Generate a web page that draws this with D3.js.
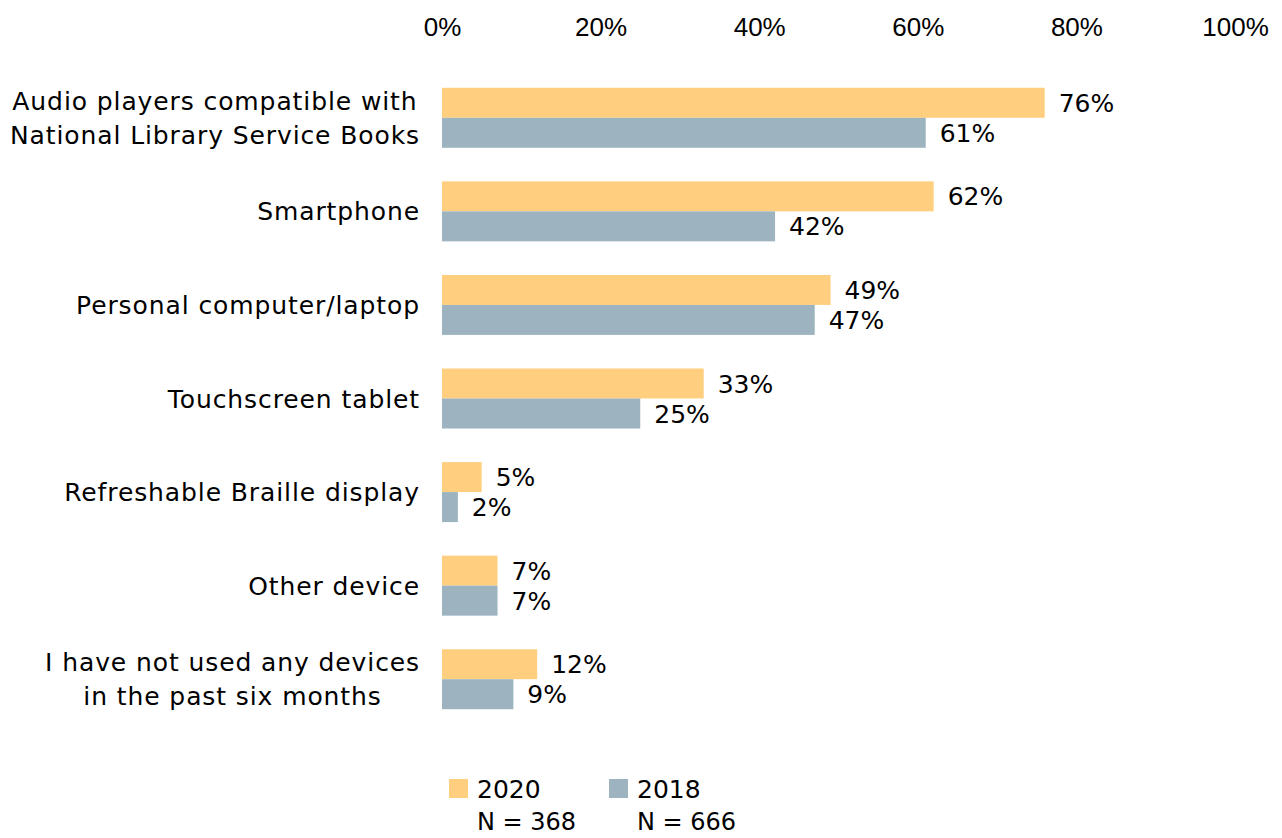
<!DOCTYPE html>
<html>
<head>
<meta charset="utf-8">
<script src="https://cdn.jsdelivr.net/npm/d3@7"></script>
<style>
  html, body { margin: 0; padding: 0; background: #fff; }
  svg text { fill: #000; }
</style>
</head>
<body>
<svg id="chart" width="1282" height="838"></svg>
<script>
// Devices used in the past six months, share of respondents
const categories = [
  ["Audio players compatible with", "National Library Service Books"],
  ["Smartphone"],
  ["Personal computer/laptop"],
  ["Touchscreen tablet"],
  ["Refreshable Braille display"],
  ["Other device"],
  ["I have not used any devices", "in the past six months"]
];
const values2020 = [76, 62, 49, 33, 5, 7, 12];
const values2018 = [61, 42, 47, 25, 2, 7, 9];
const seriesNames = ["2020", "2018"];
const sampleSizes = ["N = 368", "N = 666"];
const tickValues = [0, 20, 40, 60, 80, 100];

const colors = ["#FFCF7F", "#9DB4C0"];
const labelFont = "'DejaVu Sans', sans-serif";
const tickFont = "'Liberation Sans', Arial, sans-serif";

const svg = d3.select("#chart");

const x = d3.scaleLinear().domain([0, 100]).range([442, 1235]);
const y = d3.scaleBand().domain(d3.range(categories.length)).range([71, 726]).paddingInner(0).paddingOuter(0);
const barH = 30;

// Top axis (labels only)
const xAxis = d3.axisTop(x).tickValues(tickValues).tickFormat(d => d + "%").tickSize(0).tickPadding(0);
const ax = svg.append("g").attr("transform", "translate(0,36)").call(xAxis);
ax.select(".domain").remove();
ax.selectAll("text")
  .attr("font-family", tickFont)
  .attr("font-size", 26)
  .attr("fill", "#000");

const rows = categories.map((c, i) => ({ label: c, v: [values2020[i], values2018[i]] }));

const groups = svg.append("g").selectAll("g.row")
  .data(rows)
  .join("g")
  .attr("class", "row")
  .attr("transform", (d, i) => `translate(0,${y(i) + y.bandwidth() / 2})`);

// Bars: 2020 above, 2018 below
groups.each(function (d) {
  const g = d3.select(this);
  d.v.forEach((v, s) => {
    const top = s === 0 ? -barH : 0;
    g.append("rect")
      .attr("x", x(0))
      .attr("y", top)
      .attr("width", x(v) - x(0))
      .attr("height", barH)
      .attr("fill", colors[s]);
    g.append("text")
      .attr("x", x(v) + 14)
      .attr("y", top + barH / 2)
      .attr("dy", "0.36em")
      .attr("font-family", labelFont)
      .attr("font-size", 25)
      .text(v + "%");
  });
});

// Category labels: multi-line labels centred on their widest line, right edge at 420
groups.each(function (d) {
  const g = d3.select(this);
  const lineH = 34;
  const n = d.label.length;
  const t = g.append("text")
    .attr("font-family", labelFont)
    .attr("font-size", 25)
    .attr("letter-spacing", 0.9);
  d.label.forEach((line, k) => {
    t.append("tspan")
      .attr("y", (k - (n - 1) / 2) * lineH)
      .attr("dy", "0.36em")
      .text(line);
  });
  const widths = [];
  t.selectAll("tspan").each(function () { widths.push(this.getComputedTextLength()); });
  const maxW = d3.max(widths);
  const cx = 420 - maxW / 2;
  t.attr("text-anchor", "middle").selectAll("tspan").attr("x", cx);
});

// Legend
const legend = svg.append("g");
const legendX = [449, 609];
seriesNames.forEach((name, s) => {
  legend.append("rect")
    .attr("x", legendX[s]).attr("y", 779).attr("width", 19).attr("height", 19)
    .attr("fill", colors[s]);
  legend.append("text")
    .attr("x", legendX[s] + 28).attr("y", 789).attr("dy", "0.36em")
    .attr("font-family", labelFont).attr("font-size", 25)
    .text(name);
  legend.append("text")
    .attr("x", legendX[s] + 28).attr("y", 821).attr("dy", "0.36em")
    .attr("font-family", labelFont).attr("font-size", 24)
    .text(sampleSizes[s]);
});
</script>
</body>
</html>
